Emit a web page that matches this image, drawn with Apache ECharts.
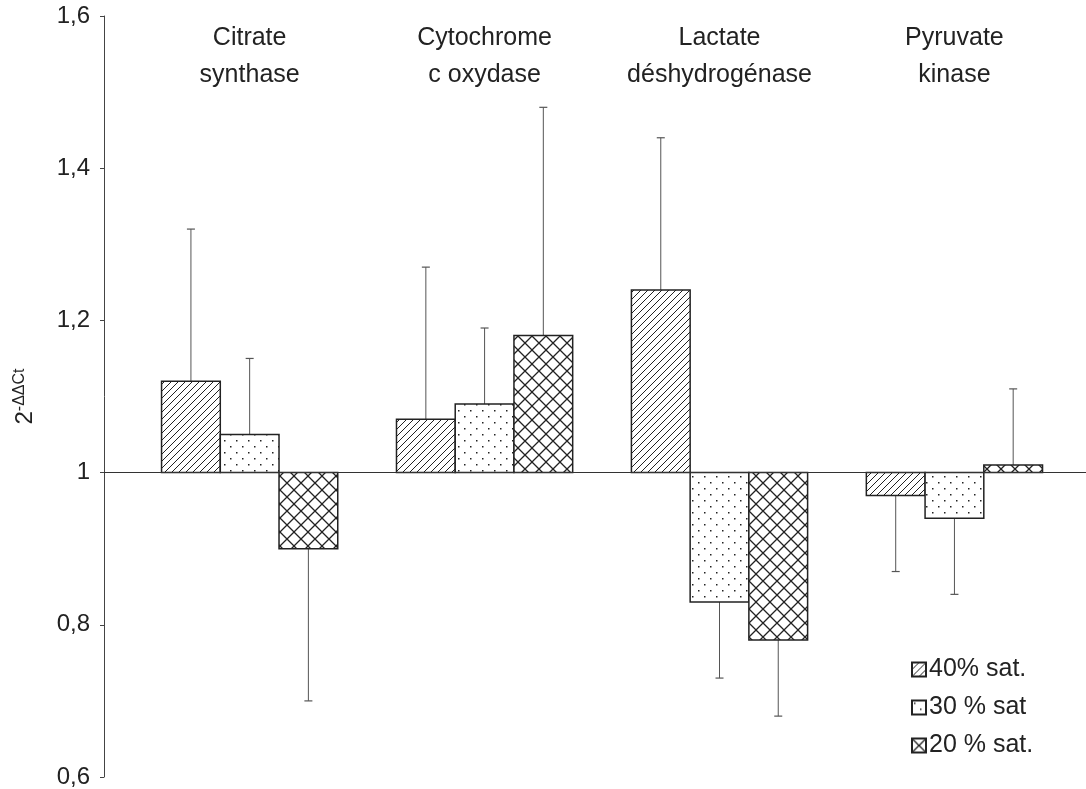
<!DOCTYPE html>
<html lang="fr">
<head>
  <meta charset="UTF-8">
  <title>2-ΔΔCt</title>
  <style>
    html,body{margin:0;padding:0;background:#fff;}
    #main{width:1086px;height:789px;}
  </style>
</head>
<body>
  <div id="main"></div>
  <script src="https://cdn.jsdelivr.net/npm/echarts@6/dist/echarts.min.js"></script>
  <script>
    // enzymes (groups along x)
    const categories=['Citrate\nsynthase','Cytochrome\nc oxydase','Lactate\ndéshydrogénase','Pyruvate\nkinase'];
    const seriesNames=['40% sat.','30 % sat','20 % sat.'];
    // 2^-ΔΔCt, baseline 1
    const sat40=[1.12,1.07,1.24,0.97];
    const sat30=[1.05,1.09,0.83,0.94];
    const sat20=[0.90,1.18,0.78,1.01];
    // error (one side, away from 1)
    const err40=[0.20,0.20,0.20,0.10];
    const err30=[0.10,0.10,0.10,0.10];
    const err20=[0.20,0.30,0.10,0.10];
    const yTicks=[0.6,0.8,1,1.2,1.4,1.6];
    const baseline=1;

    const FONT='"Liberation Sans", Arial, sans-serif';

    function makePattern(kind){
      const c=document.createElement('canvas');
      const s=kind==='dots'?12:(kind==='cross'?14:7);
      c.width=s;c.height=s;
      const g=c.getContext('2d');
      g.fillStyle='#fff';g.fillRect(0,0,s,s);
      g.strokeStyle='#222';g.fillStyle='#222';
      if(kind==='diag'){
        g.lineWidth=1;
        g.beginPath();
        for(let k=-1;k<=1;k++){
          g.moveTo(k*s,s);g.lineTo(k*s+s,0);
        }
        g.stroke();
      }else if(kind==='dots'){
        g.fillRect(2,2,1.5,1.5);
        g.fillRect(8,8,1.5,1.5);
      }else{
        g.lineWidth=1.3;
        g.beginPath();
        g.moveTo(0,0);g.lineTo(s,s);
        g.moveTo(0,s);g.lineTo(s,0);
        g.stroke();
      }
      return {image:c,repeat:'repeat'};
    }
    const patterns=[makePattern('diag'),makePattern('dots'),makePattern('cross')];

    const values=[sat40,sat30,sat20];
    const errors=[err40,err30,err20];
    const barW=0.25;

    function barSeries(j){
      return {
        type:'custom',
        name:seriesNames[j],
        itemStyle:{color:patterns[j],borderColor:'#222',borderWidth:1},
        data:values[j].map((v,i)=>[i,v,errors[j][i]]),
        renderItem:function(params,api){
          const x=api.value(0)+(j-1)*barW;
          const v=api.value(1);
          const e=api.value(2);
          const end=v>=baseline?v+e:v-e;
          const p0=api.coord([x,baseline]);
          const p1=api.coord([x,v]);
          const pe=api.coord([x,end]);
          const w=api.size([barW,0])[0];
          return {
            type:'group',
            children:[
              {type:'line',shape:{x1:p1[0],y1:p1[1],x2:pe[0],y2:pe[1]},style:{stroke:'#555',lineWidth:1}},
              {type:'line',shape:{x1:pe[0]-4,y1:pe[1],x2:pe[0]+4,y2:pe[1]},style:{stroke:'#555',lineWidth:1.2}},
              {type:'rect',shape:{x:p0[0]-w/2,y:Math.min(p0[1],p1[1]),width:w,height:Math.abs(p1[1]-p0[1])},
                style:{fill:patterns[j],stroke:'#222',lineWidth:1.5}}
            ]
          };
        },
        z:3
      };
    }

    const labelSeries={
      type:'custom',
      data:categories.map((c,i)=>[i,yTicks[yTicks.length-1]]),
      renderItem:function(params,api){
        const p=api.coord([api.value(0),api.value(1)]);
        return {type:'text',x:p[0],y:p[1]+4,
          style:{text:categories[params.dataIndex],align:'center',verticalAlign:'top',
            font:'25px '+FONT,fill:'#222',lineHeight:37}};
      },
      silent:true
    };

    const chart=echarts.init(document.getElementById('main'));
    const option={
      backgroundColor:'#fff',
      animation:false,
      grid:{left:104,right:0,top:16,bottom:7},
      legend:{
        orient:'vertical',left:906,top:652,
        data:seriesNames,icon:'rect',itemWidth:14,itemHeight:14,itemGap:13,
        textStyle:{fontFamily:FONT,fontSize:25,color:'#222',lineHeight:25,padding:[0,0,0,-2]}
      },
      xAxis:{type:'value',min:-0.62,max:3.56,show:false},
      yAxis:{
        type:'value',min:yTicks[0],max:yTicks[yTicks.length-1],interval:0.2,
        splitLine:{show:false},
        axisLine:{show:true,onZero:false,lineStyle:{color:'#444',width:1}},
        axisTick:{show:true,length:4,lineStyle:{color:'#444'}},
        axisLabel:{fontFamily:FONT,fontSize:24,color:'#222',margin:14,
          formatter:v=>String(Math.round(v*10)/10).replace('.',',')},
        name:'{base|2}{sup|-ΔΔCt}',nameLocation:'middle',nameRotate:90,nameGap:66,
        nameTextStyle:{fontFamily:FONT,fontSize:24,color:'#222',
          rich:{base:{fontFamily:FONT,fontSize:24,color:'#222'},sup:{fontFamily:FONT,fontSize:16,color:'#222',padding:[0,0,10,0]}}}
      },
      series:[
        barSeries(0),barSeries(1),barSeries(2),
        labelSeries,
        {type:'line',data:[],markLine:{silent:true,symbol:'none',label:{show:false},
          lineStyle:{color:'#333',width:1,type:'solid'},data:[{yAxis:baseline}]},z:2}
      ]
    };
    chart.setOption(option);
  </script>
</body>
</html>
